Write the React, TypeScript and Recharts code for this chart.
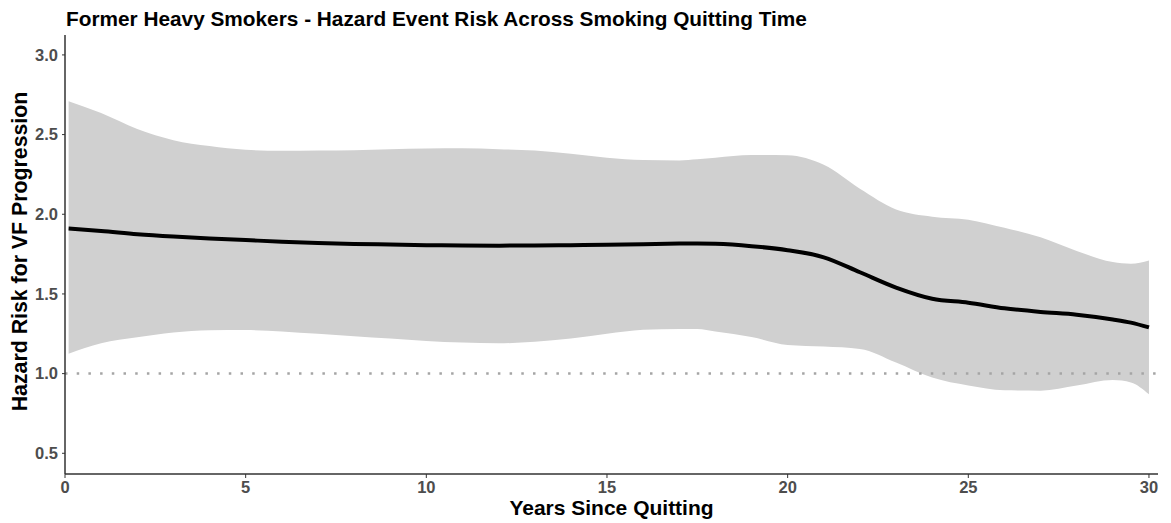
import React from "react";
import { ComposedChart, Area, Line, XAxis, YAxis, ReferenceLine } from "recharts";

const years = [0.1, 1, 2, 3, 4, 5, 6, 7, 8, 9, 10, 11, 12, 13, 14, 15, 16, 17, 17.5, 18, 19, 20, 21, 22, 23, 24, 25, 26, 27, 28, 29, 29.5, 30];
const hazard = [1.91, 1.895, 1.875, 1.86, 1.848, 1.838, 1.828, 1.82, 1.814, 1.81, 1.806, 1.804, 1.803, 1.804, 1.806, 1.808, 1.812, 1.816, 1.817, 1.815, 1.8, 1.774, 1.73, 1.636, 1.54, 1.47, 1.445, 1.41, 1.387, 1.37, 1.34, 1.32, 1.29];
const upper = [2.71, 2.635, 2.535, 2.465, 2.428, 2.405, 2.398, 2.4, 2.402, 2.408, 2.413, 2.414, 2.408, 2.4, 2.38, 2.355, 2.34, 2.338, 2.345, 2.355, 2.372, 2.37, 2.31, 2.16, 2.03, 1.985, 1.966, 1.915, 1.855, 1.77, 1.7, 1.69, 1.71];
const lower = [1.125, 1.19, 1.228, 1.258, 1.272, 1.273, 1.265, 1.25, 1.235, 1.22, 1.205, 1.195, 1.19, 1.2, 1.22, 1.25, 1.275, 1.28, 1.28, 1.265, 1.23, 1.18, 1.17, 1.155, 1.07, 0.975, 0.925, 0.895, 0.893, 0.925, 0.96, 0.945, 0.87];

const xTicks = [0, 5, 10, 15, 20, 25, 30];
const yTicks = [0.5, 1.0, 1.5, 2.0, 2.5, 3.0];

const title = "Former Heavy Smokers - Hazard Event Risk Across Smoking Quitting Time";
const xTitle = "Years Since Quitting";
const yTitle = "Hazard Risk for VF Progression";

const data = years.map((x, i) => ({ x, hr: hazard[i], band: [lower[i], upper[i]] }));

const FONT = "Arial, 'Liberation Sans', sans-serif";

export default function App() {
  return (
    <div style={{ position: "relative", width: 1163, height: 515 }}>
      <ComposedChart width={1163} height={515} data={data} margin={{ top: 27, right: 13, left: 0, bottom: 0 }}>
        <XAxis
          dataKey="x"
          type="number"
          domain={[0, 30.25]}
          ticks={xTicks}
          allowDataOverflow
          height={49}
          axisLine={{ stroke: "#333333", strokeWidth: 1.5 }}
          tickLine={{ stroke: "#333333", strokeWidth: 1 }}
          tickSize={4}
          tickMargin={3}
          tick={{ fill: "#4d4d4d", fontSize: 16.5, fontWeight: "bold", fontFamily: FONT }}
          label={{
            content: (props: any) => {
              const vb = props.viewBox || { x: 57, y: 466, width: 1093 };
              return (
                <text x={vb.x + vb.width / 2} y={vb.y + 41} textAnchor="middle" fill="#000" fontSize={21} fontWeight="bold" fontFamily={FONT}>
                  {xTitle}
                </text>
              );
            },
          }}
        />
        <YAxis
          type="number"
          domain={[0.37, 3.125]}
          ticks={yTicks}
          allowDataOverflow
          width={57}
          axisLine={{ stroke: "#333333", strokeWidth: 1.5 }}
          tickLine={{ stroke: "#333333", strokeWidth: 1 }}
          tickSize={3}
          tickMargin={4}
          tickFormatter={(v: number) => v.toFixed(1)}
          tick={{ fill: "#4d4d4d", fontSize: 16.5, fontWeight: "bold", fontFamily: FONT }}
          label={{
            content: (props: any) => {
              const vb = props.viewBox || { x: 0, y: 27, width: 57, height: 439 };
              const cx = 19;
              const cy = vb.y + vb.height / 2 - 3;
              return (
                <text x={cx} y={cy} transform={`rotate(-90, ${cx}, ${cy})`} textAnchor="middle" fill="#000" fontSize={21.3} fontWeight="bold" fontFamily={FONT}>
                  {yTitle}
                </text>
              );
            },
          }}
        />
        <Area dataKey="band" type="monotone" fill="#d0d0d0" fillOpacity={1} stroke="none" isAnimationActive={false} />
        <ReferenceLine y={1} stroke="#a5a5a5" strokeWidth={2.5} strokeDasharray="2.5 9.2" />
        <Line dataKey="hr" type="monotone" stroke="#000000" strokeWidth={4} dot={false} isAnimationActive={false} />
      </ComposedChart>
      <svg width={1163} height={30} style={{ position: "absolute", left: 0, top: 0, pointerEvents: "none" }}>
        <text x={58} y={18} fill="#000" fontSize={20.8} fontWeight="bold" fontFamily={FONT}>
          {title}
        </text>
      </svg>
    </div>
  );
}
